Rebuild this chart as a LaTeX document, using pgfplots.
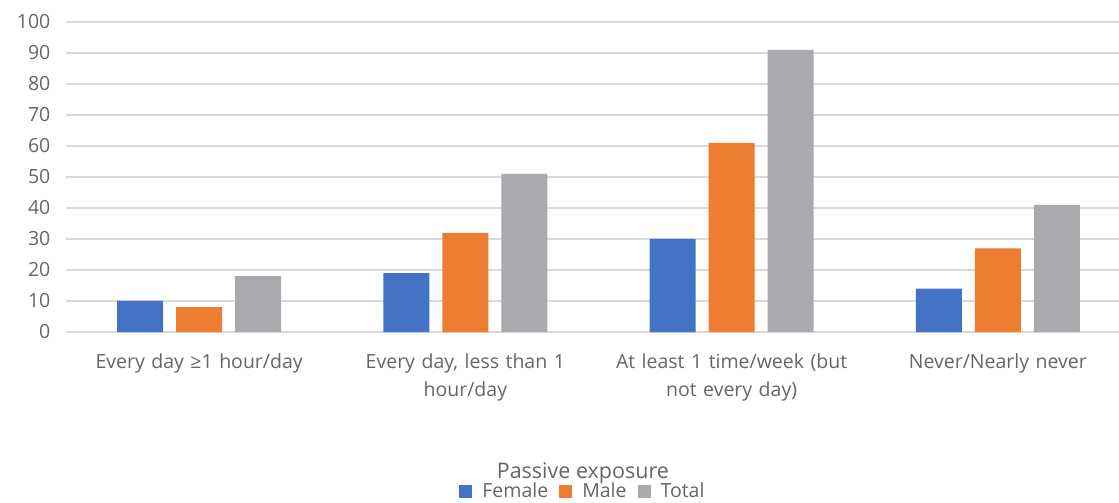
\documentclass[border=0pt]{standalone}
\usepackage{pgfplots}
\pgfplotsset{compat=1.18}
\usepackage{fontspec}
\setmainfont{Open Sans}
\definecolor{cF}{HTML}{4472C4}
\definecolor{cM}{HTML}{ED7D31}
\definecolor{cT}{HTML}{A9AAAD}
\definecolor{txt}{HTML}{666666}
\definecolor{grd}{HTML}{D9D9D9}
\begin{document}
\fontsize{19.5pt}{27pt}\selectfont
\begin{tikzpicture}
\useasboundingbox (-66pt,-171pt) rectangle (1053pt,332pt);
\begin{axis}[
  at={(0,0)}, anchor=south west,
  scale only axis, width=1065pt, height=310pt,
  ybar=13pt, bar width=46pt,
  ymin=0, ymax=100, ytick={0,10,...,100},
  xmin=-0.5, xmax=3.5, xtick={0,1,2,3},
  xticklabels={{Every day ≥1 hour/day},{Every day, less than 1\\hour/day},{At least 1 time/week (but\\not every day)},{Never/Nearly never}},
  xticklabel style={text width=270pt, align=center, font=\fontsize{19.5pt}{28pt}\selectfont, text=txt, yshift=-15pt},
  yticklabel style={font=\fontsize{19.5pt}{22pt}\selectfont, text=txt, xshift=-9pt},
  /pgf/number format/assume math mode=true,
  axis line style={draw=none},
  major tick length=0pt,
  ymajorgrids, grid style={grd, line width=1.2pt},
  legend style={draw=none, fill=none, at={(rel axis cs:0.4854,-0.5161)}, anchor=center, legend columns=3,
    font=\fontsize{19.5pt}{22pt}\selectfont, text=txt},
  legend image code/.code={\fill[#1] (0pt,-6.5pt) rectangle (13pt,6.5pt);},
  clip=false,
]
\addplot[fill=cF, draw=none] coordinates {(0,10) (1,19) (2,30) (3,14)};
\addplot[fill=cM, draw=none] coordinates {(0,8) (1,32) (2,61) (3,27)};
\addplot[fill=cT, draw=none] coordinates {(0,18) (1,51) (2,91) (3,41)};
\legend{{\kern8pt Female\kern9pt}, {\kern8pt Male\kern9pt}, {\kern8pt Total}}
\node[text=txt, font=\fontsize{21.5pt}{24pt}\selectfont] at (rel axis cs:0.4854,-0.4548) {Passive exposure};
\end{axis}
\end{tikzpicture}
\end{document}
